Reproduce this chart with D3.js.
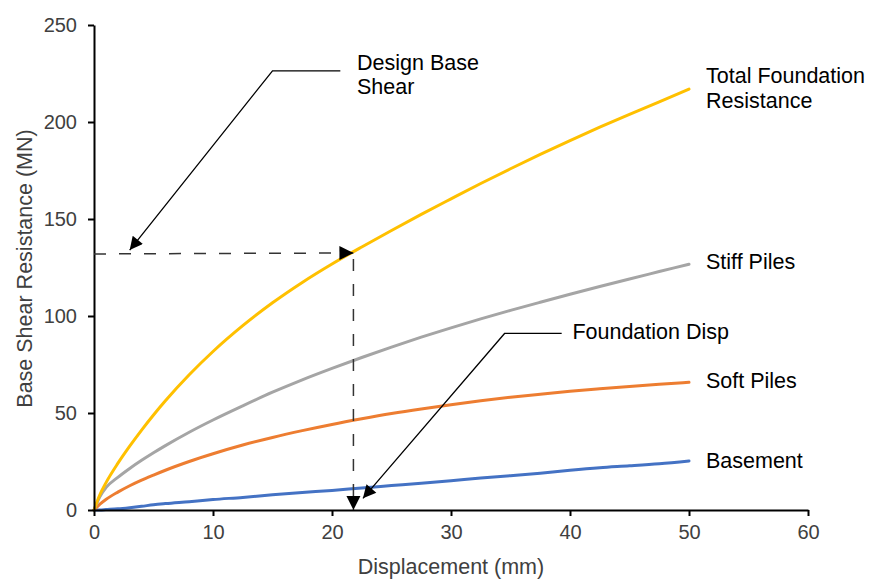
<!DOCTYPE html>
<html>
<head>
<meta charset="utf-8">
<script src="https://cdn.jsdelivr.net/npm/d3@7"></script>
<style>
  body { margin: 0; background: #fff; }
  svg text { font-family: "Liberation Sans", Arial, sans-serif; }
</style>
</head>
<body>
<div class="chart"></div>
<script>
// displacement (mm) sample points
var disp = [0, 0.5, 1, 2, 3, 4, 5, 6, 8, 10, 12.5, 15, 17.5, 20, 22.5, 25, 27.5, 30, 32.5, 35, 37.5, 40, 42.5, 45, 47.5, 50];

// base shear resistance (MN)
var totalRes  = [0, 8, 14, 24, 32.9, 41.2, 49, 56.3, 69.7, 81.7, 95, 106.8, 117.3, 126.8, 135.6, 144.1, 152.4, 160.4, 168.3, 175.9, 183.3, 190.4, 197.3, 203.9, 210.4, 217];
var stiffRes  = [0, 7, 11.5, 16.8, 21.4, 25.6, 29.5, 33.2, 40.1, 46.4, 53.7, 60.7, 67.1, 73, 78.6, 84, 89.1, 93.9, 98.5, 102.9, 107.1, 111.2, 115.2, 119.1, 122.9, 126.7];
var softRes   = [0, 3, 5.4, 9.2, 12.5, 15.4, 18, 20.5, 25, 29, 33.5, 37.4, 40.9, 44.1, 47, 49.7, 52.1, 54.3, 56.3, 58.1, 59.7, 61.2, 62.5, 63.7, 64.8, 65.8];
var baseRes   = [0, 0, 0.2, 0.6, 1.2, 1.9, 2.7, 3.3, 4.3, 5.4, 6.5, 7.8, 9.0, 10.1, 11.4, 12.6, 13.8, 15.1, 16.5, 17.7, 19.0, 20.5, 21.8, 22.8, 23.9, 25.3];

var seriesNames  = [["Total Foundation", "Resistance"], ["Stiff Piles"], ["Soft Piles"], ["Basement"]];
var seriesColors = ["#FFC000", "#A5A5A5", "#ED7D31", "#4472C4"];

var xTicks = [0, 10, 20, 30, 40, 50, 60];
var yTicks = [0, 50, 100, 150, 200, 250];

// design point
var designShear = 132.5;
var designDisp  = 21.8;

// annotation anchors (data units)
var designNote = { text: ["Design Base", "Shear"], at: [22.1, 227], elbow: [[20.7, 226.4], [15, 226.4]], tip: [3, 134] };
var dispNote   = { text: ["Foundation Disp"], at: [40.2, 88], elbow: [[39.3, 91], [34.5, 91]], tip: [22.6, 6] };

var W = 872, H = 580;
var margin = { left: 94, top: 25, right: 64, bottom: 70 };

var svg = d3.select("div.chart").append("svg")
            .attr("width", W)
            .attr("height", H);

var x = d3.scaleLinear().domain([0, 60]).range([margin.left, W - margin.right]);
var y = d3.scaleLinear().domain([0, 250]).range([H - margin.bottom, margin.top]);

// arrow heads
var defs = svg.append("defs");
function arrowHead(id, len, wid) {
    defs.append("marker")
        .attr("id", id)
        .attr("viewBox", "0 0 10 10")
        .attr("refX", 10).attr("refY", 5)
        .attr("markerUnits", "userSpaceOnUse")
        .attr("markerWidth", len).attr("markerHeight", wid)
        .attr("orient", "auto")
        .append("path")
        .attr("d", "M0,0 L10,5 L0,10 Z")
        .attr("fill", "#000");
}
arrowHead("headBig", 14, 15);
arrowHead("headThin", 15, 13);

// series lines
var allSeries = [totalRes, stiffRes, softRes, baseRes];
var line = d3.line()
             .x(function(d, i) { return x(disp[i]); })
             .y(function(d) { return y(d); })
             .curve(d3.curveMonotoneX);

// draw back to front so yellow sits on top like the original
[3, 2, 1, 0].forEach(function(k) {
    svg.append("path")
       .attr("d", line(allSeries[k]))
       .attr("fill", "none")
       .attr("stroke", seriesColors[k])
       .attr("stroke-width", 3)
       .attr("stroke-linecap", "round");
});

// axes
var xAxis = svg.append("g")
               .attr("transform", "translate(0," + y(0) + ")")
               .call(d3.axisBottom(x).tickValues(xTicks).tickSize(6).tickPadding(9).tickSizeOuter(0));
var yAxis = svg.append("g")
               .attr("transform", "translate(" + x(0) + ",0)")
               .call(d3.axisLeft(y).tickValues(yTicks).tickSize(6).tickPadding(11).tickSizeOuter(0));

[xAxis, yAxis].forEach(function(ax) {
    ax.select(".domain").attr("stroke", "#000").attr("stroke-width", 2);
    ax.selectAll(".tick line").attr("stroke", "#000").attr("stroke-width", 2);
    ax.selectAll(".tick text")
      .style("font-family", "Liberation Sans, Arial, sans-serif")
      .style("font-size", "20px")
      .attr("fill", "#404040");
});

// axis titles
svg.append("text")
   .attr("x", (x(0) + x(60)) / 2)
   .attr("y", 574)
   .attr("text-anchor", "middle")
   .style("font-size", "21.5px")
   .attr("fill", "#404040")
   .text("Displacement (mm)");

svg.append("text")
   .attr("transform", "translate(32," + ((y(0) + y(250)) / 2 + 1) + ") rotate(-90)")
   .attr("text-anchor", "middle")
   .style("font-size", "21.5px")
   .attr("fill", "#404040")
   .text("Base Shear Resistance (MN)");

// dashed guide lines to the design point
svg.append("line")
   .attr("x1", x(0)).attr("y1", y(designShear) + 1)
   .attr("x2", x(designDisp)).attr("y2", y(designShear))
   .attr("stroke", "#333").attr("stroke-width", 1.5)
   .attr("stroke-dasharray", "12,13")
   .attr("marker-end", "url(#headBig)");

svg.append("line")
   .attr("x1", x(designDisp)).attr("y1", y(designShear))
   .attr("x2", x(designDisp)).attr("y2", y(0))
   .attr("stroke", "#333").attr("stroke-width", 1.5)
   .attr("stroke-dasharray", "12,13")
   .attr("stroke-dashoffset", -6)
   .attr("marker-end", "url(#headBig)");

// callouts with leader arrows
[designNote, dispNote].forEach(function(n) {
    var pts = n.elbow.concat([n.tip]).map(function(p) { return [x(p[0]), y(p[1])]; });
    svg.append("path")
       .attr("d", d3.line()(pts))
       .attr("fill", "none")
       .attr("stroke", "#000")
       .attr("stroke-width", 1.3)
       .attr("marker-end", "url(#headThin)");

    var t = svg.append("text")
               .attr("x", x(n.at[0]))
               .attr("y", y(n.at[1]))
               .style("font-size", "21.5px")
               .attr("fill", "#000");
    n.text.forEach(function(s, i) {
        t.append("tspan")
         .attr("x", x(n.at[0]))
         .attr("dy", i === 0 ? 0 : 24)
         .text(s);
    });
});

// series labels at the line ends
var labelShift = [-1, -3, -2, -1];
seriesNames.forEach(function(lines, k) {
    var vals = allSeries[k];
    var ex = x(disp[disp.length - 1]) + 17;
    var ey = y(vals[vals.length - 1]) + labelShift[k] - (lines.length - 1) * 12.5;
    var t = svg.append("text")
               .attr("x", ex)
               .attr("y", ey)
               .attr("dy", "0.36em")
               .style("font-size", "21.5px")
               .attr("fill", "#000");
    lines.forEach(function(s, i) {
        t.append("tspan")
         .attr("x", ex)
         .attr("dy", i === 0 ? "0.36em" : 25)
         .text(s);
    });
});
</script>
</body>
</html>
